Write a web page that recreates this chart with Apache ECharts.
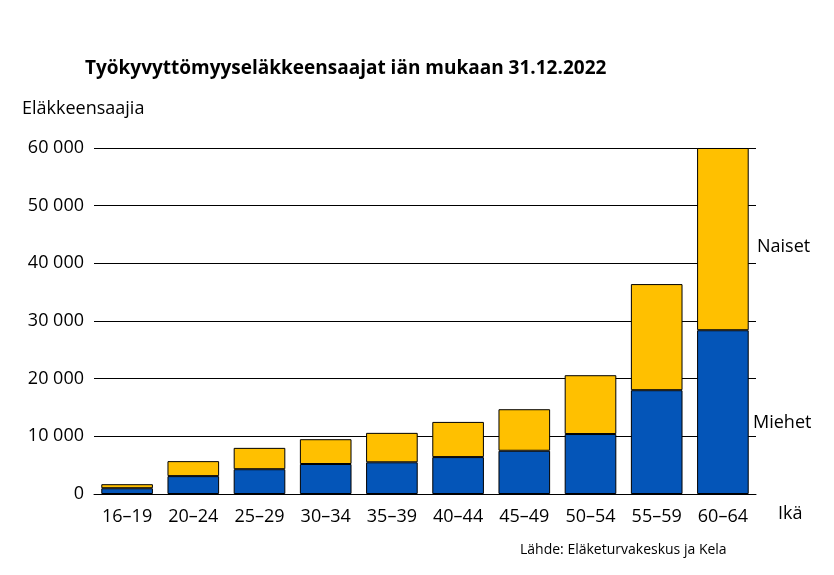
<!DOCTYPE html>
<html><head><meta charset="utf-8">
<script src="https://cdn.jsdelivr.net/npm/echarts@6/dist/echarts.min.js"></script>
<style>html,body{margin:0;padding:0;background:#fff}#c{width:834px;height:575px}</style>
</head><body><div id="c"></div>
<script>
const categories = ['16–19','20–24','25–29','30–34','35–39','40–44','45–49','50–54','55–59','60–64'];
const miehet = [1000,3100,4300,5200,5500,6400,7500,10400,18000,28400];
const naiset = [700,2600,3700,4300,5100,6100,7200,10200,18400,31600];
const font = 'Open Sans, Liberation Sans, sans-serif';
const chart = echarts.init(document.getElementById('c'));
chart.setOption({
  animation:false,
  textStyle:{fontFamily:font},
  title:{text:'Työkyvyttömyyseläkkeensaajat iän mukaan 31.12.2022',left:80,top:54,
    textStyle:{fontSize:19,fontWeight:'bold',color:'#000',fontFamily:font}},
  grid:{left:94,right:78,top:148,bottom:81},
  xAxis:{type:'category',data:categories,
    axisLine:{lineStyle:{color:'#000'}},axisTick:{show:false},
    axisLabel:{color:'#000',fontSize:18,margin:14}},
  yAxis:{type:'value',min:0,max:60000,interval:10000,
    axisLabel:{color:'#000',fontSize:18,margin:10,formatter:v=>v===0?'0':String(v).replace(/\B(?=(\d{3})+(?!\d))/g,' ')},
    splitLine:{lineStyle:{color:'#000',width:1}},axisLine:{show:false},axisTick:{show:false}},
  series:[
    {name:'Miehet',type:'bar',stack:'a',data:miehet,barWidth:'78%',
      itemStyle:{color:'#0455B8',borderColor:'#000',borderWidth:1}},
    {name:'Naiset',type:'bar',stack:'a',data:naiset,
      itemStyle:{color:'#FFC000',borderColor:'#000',borderWidth:1}}
  ],
  graphic:[
    {type:'text',left:22,top:100,style:{text:'Eläkkeensaajia',fontSize:18,fill:'#000',fontFamily:font}},
    {type:'text',left:757,top:238,style:{text:'Naiset',fontSize:18,fill:'#000',fontFamily:font}},
    {type:'text',left:753,top:414,style:{text:'Miehet',fontSize:18,fill:'#000',fontFamily:font}},
    {type:'text',left:778,top:505,style:{text:'Ikä',fontSize:18,fill:'#000',fontFamily:font}},
    {type:'text',left:520,top:543,style:{text:'Lähde: Eläketurvakeskus ja Kela',fontSize:14,fill:'#000',fontFamily:font}}
  ]
});
</script></body></html>
